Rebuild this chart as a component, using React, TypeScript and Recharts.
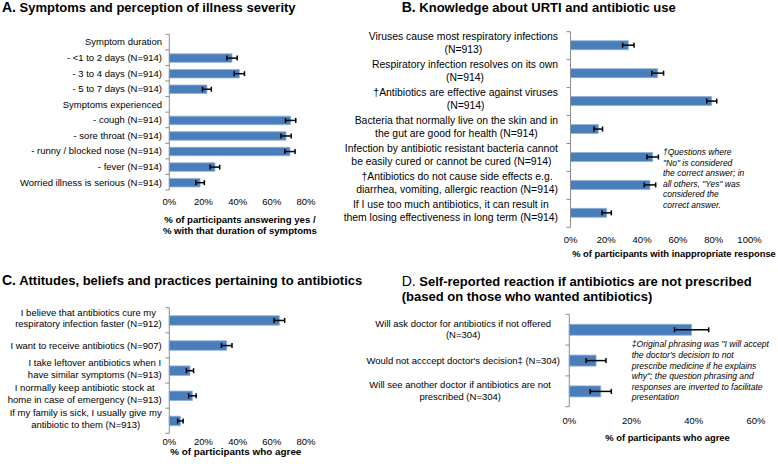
import { BarChart, Bar, XAxis, YAxis, ErrorBar } from 'recharts'

const FONT = '"Liberation Sans", Arial, Helvetica, sans-serif'
const BAR_BLUE = '#4a7ebb'
const BAR_EDGE = '#8fb2dc'
const AXIS_GREY = '#8c8c8c'

// A. Symptoms and perception of illness severity
const symptomLabels = [
  'Symptom duration',
  '- <1 to 2 days (N=914)',
  '- 3 to 4 days (N=914)',
  '- 5 to 7 days (N=914)',
  'Symptoms experienced',
  '- cough (N=914)',
  '- sore throat (N=914)',
  '- runny / blocked nose (N=914)',
  '- fever (N=914)',
  'Worried illness is serious (N=914)',
]
const symptomValues = [null, 36.7, 41, 22, null, 71, 68.3, 70.6, 26.7, 18]
const symptomErrors = [null, 3, 3, 2.6, null, 3, 3, 3, 2.8, 2.5]
const symptomTicks = [0, 20, 40, 60, 80]

// B. Knowledge about URTI and antibiotic use
const knowledgeLabels = [
  'Viruses cause most respiratory infections\n(N=913)',
  'Respiratory infection resolves on its own\n(N=914)',
  '†Antibiotics are effective against viruses\n(N=914)',
  'Bacteria that normally live on the skin and in\nthe gut are good for health (N=914)',
  'Infection by antibiotic resistant bacteria cannot\nbe easily cured or cannot be cured (N=914)',
  '†Antibiotics do not cause side effects e.g.\ndiarrhea, vomiting, allergic reaction (N=914)',
  'If I use too much antibiotics, it can result in\nthem losing effectiveness in long term (N=914)',
]
const knowledgeValues = [32.3, 48.7, 78.9, 15.5, 45.9, 44.4, 20.2]
const knowledgeErrors = [3.2, 3.3, 2.8, 2.4, 3.2, 3.2, 2.6]
const knowledgeTicks = [0, 20, 40, 60, 80, 100]

// C. Attitudes, beliefs and practices
const attitudeLabels = [
  'I believe that antibiotics cure my\nrespiratory infection faster (N=912)',
  'I want to receive antibiotics (N=907)',
  'I take leftover antibiotics when I\nhave similar symptoms (N=913)',
  'I normally keep antibiotic stock at\nhome in case of emergency (N=913)',
  'If my family is sick, I usually give my\nantibiotic to them (N=913)',
]
const attitudeValues = [64.4, 33.6, 12.1, 13.5, 6.5]
const attitudeErrors = [3.1, 3.1, 2.1, 2.2, 1.6]
const attitudeTicks = [0, 20, 40, 60, 80]

// D. Self-reported reaction if antibiotics are not prescribed
const reactionLabels = [
  'Will ask doctor for antibiotics if not offered\n(N=304)',
  "Would not acccept doctor's decision‡ (N=304)",
  'Will see another doctor if antibiotics are not\nprescribed (N=304)',
]
const reactionValues = [39.3, 8.6, 10.1]
const reactionErrors = [5.5, 3.2, 3.4]
const reactionTicks = [0, 20, 40, 60]

const knowledgeNote = [
  '†Questions where',
  '"No" is considered',
  'the correct answer; in',
  'all others, "Yes" was',
  'considered the',
  'correct answer.',
]
const reactionNote = [
  '‡Original phrasing was "I will accept',
  "the doctor's decision to not",
  'prescribe medicine if he explains',
  'why"; the question phrasing and',
  'responses are inverted to facilitate',
  'presentation',
]

type Frame = {
  left: number
  right: number
  top: number
  bottom: number
  barSize: number
  font: number
  tickGap: number
  wrapRight: number
  singleRight: number
  lineGap: number
  shift: number
}

let measureCtx: CanvasRenderingContext2D | null = null
function textWidth(s: string, size: number) {
  if (!measureCtx) measureCtx = document.createElement('canvas').getContext('2d')
  if (!measureCtx) return s.length * size * 0.5
  measureCtx.font = `${size}px "Liberation Sans"`
  return measureCtx.measureText(s).width
}

function makeTick(f: Frame, count: number) {
  const band = (f.bottom - f.top) / count
  return (props: any) => {
    const { y, payload, index } = props
    const lines = String(payload.value).split('\n')
    const base = f.font * 0.355
    let texts
    if (lines.length === 1) {
      texts = (
        <text x={f.singleRight} y={y + base} textAnchor="end" fontSize={f.font} fill="#000">
          {lines[0]}
        </text>
      )
    } else {
      const widest = Math.max(...lines.map((l) => textWidth(l, f.font)))
      const cx = f.wrapRight - widest / 2
      texts = lines.map((l, i) => (
        <text
          key={i}
          x={cx}
          y={y + f.shift + (i - (lines.length - 1) / 2) * f.lineGap + base}
          textAnchor="middle"
          fontSize={f.font}
          fill="#000"
        >
          {l}
        </text>
      ))
    }
    return (
      <g>
        {index === 0 && (
          <line x1={f.left - 4} x2={f.left} y1={y - band / 2} y2={y - band / 2} stroke={AXIS_GREY} />
        )}
        <line x1={f.left - 4} x2={f.left} y1={y + band / 2} y2={y + band / 2} stroke={AXIS_GREY} />
        {texts}
      </g>
    )
  }
}

function Panel({
  labels,
  values,
  errors,
  ticks,
  frame,
}: {
  labels: string[]
  values: (number | null)[]
  errors: (number | null)[]
  ticks: number[]
  frame: Frame
}) {
  const data = labels.map((label, i) => ({ label, value: values[i], err: errors[i] }))
  const f = frame
  return (
    <div style={{ position: 'absolute', left: 0, top: 0 }}>
      <BarChart
        width={778}
        height={464}
        data={data}
        layout="vertical"
        margin={{ top: f.top, right: 778 - f.right, bottom: 464 - f.bottom - 30, left: 0 }}
      >
        <XAxis
          type="number"
          domain={[0, ticks[ticks.length - 1]]}
          ticks={ticks}
          tickFormatter={(v) => `${v}%`}
          axisLine={false}
          tickLine={false}
          tickSize={0}
          tickMargin={f.tickGap}
          height={30}
          tick={{ fontSize: 9.5, fill: '#000' }}
        />
        <YAxis
          type="category"
          dataKey="label"
          width={f.left}
          axisLine={{ stroke: AXIS_GREY }}
          tickLine={false}
          interval={0}
          tick={makeTick(f, labels.length)}
        />
        <Bar
          dataKey="value"
          barSize={f.barSize}
          fill={BAR_BLUE}
          stroke={BAR_EDGE}
          strokeWidth={0.8}
          isAnimationActive={false}
        >
          <ErrorBar dataKey="err" direction="x" width={2.5} stroke="#000" strokeWidth={1.5} />
        </Bar>
      </BarChart>
    </div>
  )
}

const frameA: Frame = {
  left: 169.3, right: 306, top: 34.3, bottom: 190, barSize: 8.5, font: 9.5,
  tickGap: 8.6, wrapRight: 162, singleRight: 162, lineGap: 11.5, shift: 0,
}
const frameB: Frame = {
  left: 570.5, right: 749.5, top: 31.7, bottom: 227.3, barSize: 9, font: 10.4,
  tickGap: 9.3, wrapRight: 558, singleRight: 558, lineGap: 12.8, shift: -2.8,
}
const frameC: Frame = {
  left: 169.3, right: 306, top: 307.7, bottom: 433.3, barSize: 9.5, font: 9.5,
  tickGap: 5, wrapRight: 161.7, singleRight: 161.7, lineGap: 11.7, shift: -2,
}
const frameD: Frame = {
  left: 569.3, right: 756, top: 314.3, bottom: 406.7, barSize: 11, font: 9.5,
  tickGap: 10.9, wrapRight: 551, singleRight: 560, lineGap: 11.7, shift: -0.5,
}

export default function App() {
  return (
    <div
      style={{
        position: 'absolute',
        left: 0,
        top: 0,
        width: 778,
        height: 464,
        background: '#fff',
        fontFamily: FONT,
        overflow: 'hidden',
      }}
    >
      <Panel labels={symptomLabels} values={symptomValues} errors={symptomErrors} ticks={symptomTicks} frame={frameA} />
      <Panel labels={knowledgeLabels} values={knowledgeValues} errors={knowledgeErrors} ticks={knowledgeTicks} frame={frameB} />
      <Panel labels={attitudeLabels} values={attitudeValues} errors={attitudeErrors} ticks={attitudeTicks} frame={frameC} />
      <Panel labels={reactionLabels} values={reactionValues} errors={reactionErrors} ticks={reactionTicks} frame={frameD} />

      <svg
        width={778}
        height={464}
        style={{ position: 'absolute', left: 0, top: 0, pointerEvents: 'none' }}
        fontFamily={FONT}
      >
        {/* panel titles */}
        <text x={2} y={11.7} fontWeight="bold" fill="#000">
          <tspan fontSize={14}>A.</tspan>
          <tspan fontSize={13}> Symptoms and perception of illness severity</tspan>
        </text>
        <text x={401.7} y={11.7} fontWeight="bold" fill="#000">
          <tspan fontSize={14}>B.</tspan>
          <tspan fontSize={13}> Knowledge about URTI and antibiotic use</tspan>
        </text>
        <text x={2} y={284.7} fontWeight="bold" fill="#000">
          <tspan fontSize={14}>C.</tspan>
          <tspan fontSize={13}> Attitudes, beliefs and practices pertaining to antibiotics</tspan>
        </text>
        <text x={401.7} y={286.4} fill="#000">
          <tspan fontSize={14}>D.</tspan>
          <tspan fontSize={13} fontWeight="bold"> Self-reported reaction if antibiotics are not prescribed</tspan>
        </text>
        <text x={401.7} y={301.2} fontSize={13} fontWeight="bold" fill="#000">
          (based on those who wanted antibiotics)
        </text>

        {/* axis titles */}
        <text x={239.9} y={223.1} fontSize={9.6} fontWeight="bold" textAnchor="middle">
          % of participants answering yes /
        </text>
        <text x={239.9} y={234.1} fontSize={9.6} fontWeight="bold" textAnchor="middle">
          % with that duration of symptoms
        </text>
        <text x={674} y={256.7} fontSize={9.4} fontWeight="bold" textAnchor="middle">
          % of participants with inappropriate response
        </text>
        <text x={235.8} y={455.2} fontSize={9.9} fontWeight="bold" textAnchor="middle">
          % of participants who agree
        </text>
        <text x={667.5} y={441.1} fontSize={9.4} fontWeight="bold" textAnchor="middle">
          % of participants who agree
        </text>

        {/* footnotes */}
        {knowledgeNote.map((l, i) => (
          <text key={`b${i}`} x={663} y={155 + i * 10.6} fontSize={8.5} fontStyle="italic">
            {l}
          </text>
        ))}
        {reactionNote.map((l, i) => (
          <text key={`d${i}`} x={631.7} y={347.3 + i * 10.6} fontSize={8.6} fontStyle="italic">
            {l}
          </text>
        ))}
      </svg>
    </div>
  )
}
